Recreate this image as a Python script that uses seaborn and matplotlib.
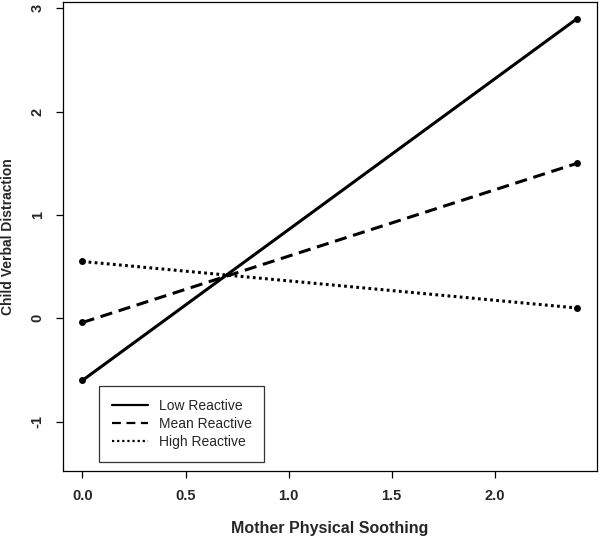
import numpy as np
import pandas as pd
import seaborn as sns
import matplotlib
matplotlib.use("Agg")
import matplotlib.pyplot as plt
from matplotlib.lines import Line2D

# simple slopes: child verbal distraction by mother physical soothing
soothing = [0.0, 2.4]
low_reactive = [-0.60, 2.90]
mean_reactive = [-0.04, 1.50]
high_reactive = [0.55, 0.10]
groups = ["Low Reactive", "Mean Reactive", "High Reactive"]

df = pd.DataFrame({
    "x": soothing * 3,
    "y": low_reactive + mean_reactive + high_reactive,
    "group": [g for g in groups for _ in soothing],
})

sns.set_style("ticks")
plt.rcParams["font.family"] = ["Liberation Sans", "DejaVu Sans"]

fig = plt.figure(figsize=(6, 5.42), dpi=100)
ax = fig.add_axes([0.1045, 0.1315, 0.8905, 0.8648])

sns.lineplot(data=df, x="x", y="y", style="group", style_order=groups,
             dashes={"Low Reactive": "", "Mean Reactive": (4, 2.2),
                     "High Reactive": (0.9, 1.1)},
             color="black", linewidth=2.2, marker="o", markersize=5,
             markeredgewidth=0, ax=ax, legend=False)

# legend drawn with plain handles (no markers), like the original
handles = [Line2D([], [], color="black", lw=1.6, linestyle="-"),
           Line2D([], [], color="black", lw=1.6, dashes=(4, 2.5)),
           Line2D([], [], color="black", lw=1.6, dashes=(1, 1.3))]
leg = ax.legend(handles, groups, loc="lower left", bbox_to_anchor=(0.0685, 0.019),
                borderaxespad=0, frameon=True, fancybox=False, edgecolor="black",
                fontsize=10, handlelength=2.6, borderpad=0.9, labelspacing=0.3,
                handletextpad=0.8)
leg.get_frame().set_linewidth(0.9)

ax.set_xlim(-0.096, 2.496)
ax.set_ylim(-1.474, 3.06)
ax.set_xticks([0.0, 0.5, 1.0, 1.5, 2.0])
ax.set_xticklabels(["0.0", "0.5", "1.0", "1.5", "2.0"])
ax.set_yticks([-1, 0, 1, 2, 3])
ax.set_yticklabels(["-1", "0", "1", "2", "3"], rotation=90, va="center")
ax.tick_params(axis="both", length=5, width=0.9, color="black", labelsize=10.5, pad=8)
for lab in ax.get_xticklabels() + ax.get_yticklabels():
    lab.set_fontweight("bold")
for sp in ax.spines.values():
    sp.set_visible(True)
    sp.set_linewidth(0.9)
    sp.set_color("black")

ax.set_xlabel("Mother Physical Soothing", fontsize=11.5, fontweight="bold", labelpad=13)
ax.set_ylabel("Child Verbal Distraction", fontsize=10, fontweight="bold", labelpad=11)

fig.savefig("out.png", dpi=100)
